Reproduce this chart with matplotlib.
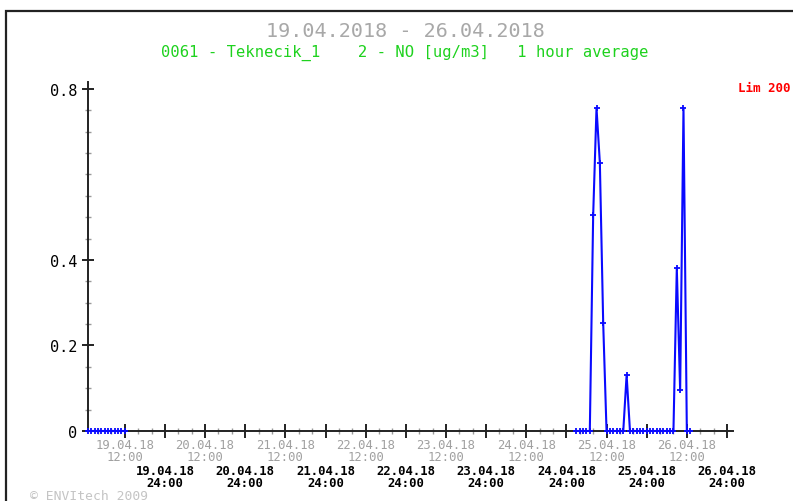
import numpy as np
import matplotlib
matplotlib.use("Agg")
import matplotlib.pyplot as plt
from matplotlib.patches import Rectangle
from matplotlib.ticker import FixedLocator, NullFormatter

# hours counted from 19.04.2018 00:00
hours_a = list(range(1, 13))
values_a = [0.0] * 12

hours_b = list(range(147, 182))
values_b = [0.0, 0.0, 0.0, 0.0, 0.0, 0.504, 0.755, 0.627, 0.252, 0.0,
            0.0, 0.0, 0.0, 0.0, 0.0, 0.131, 0.0, 0.0, 0.0, 0.0,
            0.0, 0.0, 0.0, 0.0, 0.0, 0.0, 0.0, 0.0, 0.0, 0.0,
            0.381, 0.095, 0.755, 0.0, 0.0]

day_labels = ["19.04.18", "20.04.18", "21.04.18", "22.04.18",
              "23.04.18", "24.04.18", "25.04.18", "26.04.18"]
y_major = [0, 0.2, 0.4, 0.8]
y_labels = ["0", "0.2", "0.4", "0.8"]

title = "19.04.2018 - 26.04.2018"
subtitle = "0061 - Teknecik_1    2 - NO [ug/m3]   1 hour average"

MONO = "DejaVu Sans Mono"
W, H = 793, 502

fig = plt.figure(figsize=(W / 100, H / 100), dpi=100)
ax = fig.add_axes([88 / W, 70 / H, 645 / W, 349 / H])

line_kw = dict(color="#0a0aff", linewidth=1.5, marker="+", markersize=5,
               markeredgewidth=1.3, zorder=3, clip_on=False)
ax.plot(hours_a, values_a, **line_kw)
ax.plot(hours_b, values_b, **line_kw)

ax.set_xlim(1, 193.8)
ax.set_ylim(0, 0.816)

for s in ["top", "right"]:
    ax.spines[s].set_visible(False)
for s in ["left", "bottom"]:
    ax.spines[s].set_linewidth(1.4)
    ax.spines[s].set_color("#222222")

# x ticks: major every 12h, minor every 4h
ax.xaxis.set_major_locator(FixedLocator(np.arange(12, 193, 12)))
ax.xaxis.set_minor_locator(FixedLocator([h for h in range(4, 193, 4) if h % 12]))
ax.xaxis.set_major_formatter(NullFormatter())
ax.tick_params(axis="x", which="major", direction="inout", length=9.5,
               width=1.4, color="#222222")
ax.tick_params(axis="x", which="minor", direction="inout", length=5,
               width=1.0, color="#9a9a9a")

# y ticks
ax.yaxis.set_major_locator(FixedLocator(y_major))
ax.yaxis.set_minor_locator(FixedLocator([v for v in np.arange(0.05, 0.81, 0.05)
                                         if round(v, 2) not in y_major]))
ax.set_yticklabels(y_labels, fontfamily=MONO, fontsize=11)
ax.tick_params(axis="y", which="major", direction="inout", length=9,
               width=1.4, color="#222222", pad=3)
ax.tick_params(axis="y", which="minor", direction="inout", length=5,
               width=1.0, color="#9a9a9a")

# two-row date labels below the axis (gray = 12:00, black = 24:00)
px = 0.72
for i, d in enumerate(day_labels):
    noon = 12 + 24 * i
    mid = 24 + 24 * i
    ax.annotate(d + "\n12:00", xy=(noon, 0), xycoords=("data", "axes fraction"),
                xytext=(0, -19.5 * px), textcoords="offset points",
                ha="center", va="center", ma="center", linespacing=0.92,
                fontsize=8.8, family=MONO, color="#a0a0a0")
    ax.annotate(d + "\n24:00", xy=(mid, 0), xycoords=("data", "axes fraction"),
                xytext=(0, -45.5 * px), textcoords="offset points",
                ha="center", va="center", ma="center", linespacing=0.92,
                fontsize=8.8, family=MONO, weight="bold", color="black")

# titles and side texts
fig.text(405 / W, 1 - 32 / H, title, ha="center", va="center",
         fontsize=14.5, family=MONO, color="#a8a8a8")
fig.text(405 / W, 1 - 53 / H, subtitle, ha="center", va="center",
         fontsize=11.2, family=MONO, color="#1ed21e")
fig.text(738 / W, 1 - 88 / H, "Lim 200", ha="left", va="center",
         fontsize=9, family=MONO, weight="bold", color="#ff0000")
fig.text(30 / W, 1 - 490 / H, "© ENVItech 2009", ha="left", va="top",
         fontsize=9.4, family=MONO, color="#c4c4c4")

# outer frame (cropped at right and bottom)
fig.add_artist(Rectangle((6 / W, -0.1), 1.2, 1.1 - 12 / H, transform=fig.transFigure,
                         fill=False, linewidth=1.6, edgecolor="#222222"))

fig.savefig("out.png", dpi=100)
